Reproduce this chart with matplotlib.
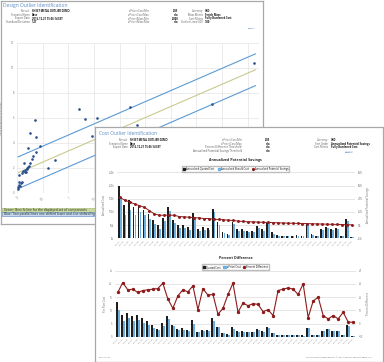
import numpy as np
import matplotlib
matplotlib.use('Agg')
import matplotlib.pyplot as plt
from matplotlib.patches import Rectangle, Patch
from matplotlib.lines import Line2D

plt.rcParams['font.family'] = ['Open Sans', 'DejaVu Sans']

W, H = 384, 362

# ---------------- design outlier (back report) ----------------
mass = [0.35, 0.25, 0.38, 1.20, 1.33, 1.57, 1.46, 2.21, 2.34, 4.63, 3.81, 0.22,
        0.44, 0.37, 0.31, 0.29, 0.14, 0.26, 0.24, 0.20, 0.18, 0.16, 0.12, 0.09,
        0.03, 0.61, 0.74, 0.04, 0.07, 0.10, 0.03, 0.01, 0.05, 0.02, 0.19, 0.22, 0.15]
fb_cost = [5.80, 4.76, 4.44, 6.74, 5.92, 6.02, 4.54, 6.86, 5.46, 10.38, 7.12, 3.62,
           3.78, 3.26, 2.96, 2.74, 2.38, 2.42, 2.16, 1.90, 1.70, 1.84, 1.78, 1.58,
           1.44, 1.98, 2.64, 0.86, 0.78, 0.90, 0.64, 0.46, 0.56, 0.32, 2.00, 2.06, 1.66]
fit_intercept = 1.576
fit_slope = 1.777
fit_sd = 1.27
fit_range = [0.025, 4.65]
mass_ticks = [0, 0.5, 1, 1.5, 2, 2.5, 3, 3.5, 4, 4.5]
mass_ticklabels = ['0', '0.5', '1', '1.5', '2', '2.5', '3', '3.5', '4', '4.5']
cost_ticks = [0, 2, 4, 6, 8, 10, 12]

back_left = [('Pursuit', 'SHEET METAL OUTLIER DEMO'), ('Scenario Name', 'Base'),
             ('Export Date', '2016-12-21 15:06:14 EST'), ('Standard Deviation', '1.27')]
back_mid = [('aPriori Cost Min', '0.05'), ('aPriori Cost Max', 'n/a'),
            ('aPriori Mass Min', '0.000'), ('aPriori Mass Max', 'n/a')]
back_right = [('Currency', 'USD'), ('Mass Metric', 'Finish Mass'),
              ('Cost Metric', 'Fully Burdened Cost'), ('Outlier Lines (SD)', '1.00')]

# ---------------- cost outlier (front report) ----------------
parts = [f'SM-{n:04d}' for n in range(1101, 1149)]
quoted_annual = [200, 127, 146, 120, 127, 108, 91, 70, 51, 78,
                 118, 70, 51, 51, 42, 95, 35, 42, 38, 110,
                 60, 25, 16, 60, 34, 34, 28, 28, 48, 35,
                 59, 22, 12, 10, 10, 10, 12, 9, 59, 15,
                 10, 34, 44, 34, 38, 10, 73, 5]
should_annual = [155, 88, 108, 88, 100, 88, 75, 55, 36, 64,
                 105, 57, 40, 40, 31, 80, 29, 33, 30, 100,
                 52, 19, 12, 54, 28, 28, 22, 22, 40, 29,
                 57, 16, 8, 8, 8, 8, 10, 7, 56, 11,
                 8, 30, 40, 30, 34, 8, 66, 4]
savings_pct = [42, 38, 35, 32, 29.5, 27, 22, 17, 15, 15,
               15, 15, 13, 12.5, 12, 11, 11, 10, 10, 9,
               8.5, 8, 7.5, 7, 6, 5.5, 5, 5, 4.5, 4.2,
               4, 3.8, 3.5, 3.2, 3, 2.8, 2.6, 2.4, 2.2, 2,
               1.8, 1.6, 1.4, 1.2, 1, 0.8, 0.6, 0.4]
quoted_cost = [13.1, 8.1, 9.1, 7.8, 8.4, 6.9, 5.9, 4.4, 3.1, 5.3,
               7.8, 4.4, 3.1, 3.4, 2.5, 6.3, 1.9, 2.5, 2.5, 7.1,
               3.8, 1.5, 0.9, 3.8, 2.1, 2.1, 1.9, 1.9, 2.9, 2.1,
               3.8, 1.5, 0.6, 0.6, 0.6, 0.6, 0.6, 0.6, 3.4, 0.6,
               0.6, 2.1, 2.9, 2.1, 2.3, 0.6, 4.4, 0.3]
apriori_cost = [10.2, 5.8, 6.9, 5.9, 6.5, 5.3, 4.5, 3.4, 2.4, 4.1,
                6.6, 3.9, 2.6, 2.7, 2.0, 4.9, 1.7, 2.0, 2.1, 5.8,
                3.5, 1.3, 0.7, 2.9, 1.9, 1.8, 1.7, 1.6, 2.5, 1.9,
                3.4, 1.4, 0.5, 0.5, 0.5, 0.5, 0.5, 0.45, 3.2, 0.5,
                0.5, 2.0, 2.8, 2.0, 2.2, 0.55, 4.1, 0.3]
pct_diff = [23.5, 31, 25.5, 26, 23.5, 25, 25.5, 26, 26.5, 30.5,
            18.5, 11.5, 21, 25.5, 24, 28.5, 10.5, 26.5, 21.5, 22,
            7, 11.5, 22, 30.5, 8.5, 15.5, 13.5, 15, 14.5, 9,
            10.5, 6, 25, 26, 27, 26, 22, 30, 4.5, 17,
            20, 6, 3.5, 6, 3.5, 8.5, 1, 1]

front_left = [('Pursuit', 'SHEET METAL OUTLIER DEMO'), ('Scenario Name', 'Base'),
              ('Export Date', '2016-12-21 15:06:14 EST')]
front_mid = [('aPriori Cost Min', '0.05'), ('aPriori Cost Max', 'n/a'),
             ('Percent Difference Threshold', 'n/a'),
             ('Annualized Potential Savings Threshold', 'n/a')]
front_right = [('Currency', 'USD'), ('Sort Order', 'Annualized Potential Savings'),
               ('Cost Metric', 'Fully Burdened Cost')]

TITLE = '#5b8cc4'
GRAY = '#6a6a6a'
BLACKBAR = '#1e1e1e'
BLUEBAR = '#6cb0e2'
RED = '#8e1b1b'


def frac(x0, y0, x1, y1):
    return [x0 / W, 1 - y1 / H, (x1 - x0) / W, (y1 - y0) / H]


def panel(x0, y0, x1, y1, z):
    ax = fig.add_axes(frac(x0, y0, x1, y1), zorder=z)
    ax.set_xlim(x0, x1)
    ax.set_ylim(y1, y0)
    ax.set_xticks([])
    ax.set_yticks([])
    for s in ax.spines.values():
        s.set_color('#a8a8a8')
        s.set_linewidth(0.9)
    return ax


def header(ax, rows, x_lab, x_val, y0, dy, val_ha='left'):
    for i, (lab, val) in enumerate(rows):
        y = y0 + i * dy
        ax.text(x_lab, y, lab, fontsize=1.9, color='#555555', ha='right', va='center')
        ax.text(x_val, y, val, fontsize=1.9, color='#111111', ha=val_ha, va='center',
                fontweight='bold')


fig = plt.figure(figsize=(W / 100, H / 100), dpi=100)

# ---------- back panel ----------
bp = panel(0.5, 0.5, 263, 224, 1)
bp.text(3, 5, 'Design Outlier Identification', fontsize=3.6, color=TITLE, va='center')
header(bp, back_left, 30, 32, 11.3, 3.6)
header(bp, back_mid, 149, 178.5, 11.3, 3.6, val_ha='right')
header(bp, back_right, 203, 205, 11.3, 3.6)
bp.text(252, 28.5, 'details', fontsize=1.7, color='#3a6fb0', ha='center', va='center')
bp.add_patch(Rectangle((2, 207.5), 258, 4, facecolor='#c9d99b', edgecolor='#9bb25a', lw=0.4))
bp.add_patch(Rectangle((2, 212), 258, 4, facecolor='#c6daf2', edgecolor='#4f81bd', lw=0.4))
bp.text(4, 209.6, 'Green: Best fit line for the displayed set of components', fontsize=2.3,
        color='#222222', va='center')
bp.text(4, 214.1, 'Blue: Two parallel lines one shifted lower and one shifted higher',
        fontsize=2.3, color='#222222', va='center')

sax = fig.add_axes(frac(17, 42.7, 259, 193), zorder=2)
sax.patch.set_alpha(0)
fx = np.array(fit_range)
fy = fit_intercept + fit_slope * fx
sax.plot(fx, fy, color='#c9c98f', lw=0.8)
sax.plot(fx, fy + fit_sd, color='#5b9bd5', lw=0.8)
sax.plot(fx, fy - fit_sd, color='#5b9bd5', lw=0.8)
sax.scatter(mass, fb_cost, s=3.5, color='#264d8a', linewidths=0, zorder=3)
sax.set_xlim(0, 4.72)
sax.set_ylim(0, 12)
sax.set_xticks(mass_ticks)
sax.set_xticklabels(mass_ticklabels, rotation=45, ha='right', rotation_mode='anchor')
sax.set_yticks(cost_ticks)
sax.grid(True, color='#e4e4e4', lw=0.5)
sax.set_axisbelow(True)
for s in sax.spines.values():
    s.set_visible(False)
sax.tick_params(length=0, labelsize=1.9, colors=GRAY, pad=2)
sax.set_ylabel('Fully Burdened Cost (USD)', fontsize=2.0, color=GRAY)
sax.yaxis.set_label_coords(-0.058, 0.5)

# ---------- front panel ----------
fp = panel(95, 127, 383, 361.5, 3)
fp.text(99, 133, 'Cost Outlier Identification', fontsize=3.5, color=TITLE, va='center')
header(fp, front_left, 127.7, 129.5, 140, 3.7)
header(fp, front_mid, 241.7, 270, 140, 3.7, val_ha='right')
header(fp, front_right, 328, 330.7, 140, 3.7)
fp.text(349, 152, 'details', fontsize=1.7, color='#3a6fb0', ha='center', va='center',
        bbox=dict(boxstyle='square,pad=0.15', facecolor='#dde9f6', edgecolor='none'))
fp.text(99, 358, '2017-01-21', fontsize=1.7, color=GRAY, va='center')
fp.text(372, 358, 'aPriori Cost Insight Report \u00a9 2017 aPriori Technologies, Inc.',
        fontsize=1.7, color=GRAY, va='center', ha='right')

x = np.arange(len(parts))


def style_chart(ax, tw, title, leg_handles, leg_labels, leg_y, title_y):
    ax.set_xlim(-0.55, len(parts) - 0.45)
    ax.set_xticks(x)
    ax.set_xticklabels(parts, rotation=45, ha='right', rotation_mode='anchor')
    ax.grid(True, axis='y', color='#dcdcdc', lw=0.5)
    ax.set_axisbelow(True)
    for a in (ax, tw):
        for s in a.spines.values():
            s.set_visible(False)
        a.tick_params(length=0, labelsize=1.8, colors=GRAY, pad=2)
    ax.tick_params(axis='x', labelsize=1.3, pad=1)
    ax.text(0.5, title_y, title, transform=ax.transAxes, ha='center', va='center',
            fontsize=2.6, fontweight='bold', color='#222222')
    ax.legend(leg_handles, leg_labels, loc='center', bbox_to_anchor=(0.5, leg_y), ncol=3,
              fontsize=1.8, frameon=True, fancybox=False, edgecolor='#bdbdbd',
              handlelength=0.9, handleheight=0.9, handletextpad=0.4, columnspacing=1.2,
              borderpad=0.35, framealpha=1)


# chart 1: annualized potential savings
c1 = fig.add_axes(frac(117, 172.3, 354.6, 238.3), zorder=4)
c1.patch.set_alpha(0)
c1.bar(x - 0.19, quoted_annual, width=0.36, color=BLACKBAR)
c1.bar(x + 0.19, should_annual, width=0.36, color=BLUEBAR)
c1.set_ylim(0, 250)
c1.set_yticks([0, 50, 100, 150, 200, 250])
c1.set_yticklabels(['0k', '50k', '100k', '150k', '200k', '250k'])
t1 = c1.twinx()
t1.set_zorder(5)
t1.patch.set_visible(False)
t1.plot(x, savings_pct, color=RED, lw=0.7, marker='o', ms=1.1, mec=RED)
t1.set_ylim(-20, 80)
t1.set_yticks([-20, 0, 20, 40, 60, 80])
t1.set_yticklabels(['-20%', '0%', '20%', '40%', '60%', '80%'])
c1.set_ylabel('Annualized Cost', fontsize=1.9, color=GRAY, labelpad=2)
t1.set_ylabel('Annualized Potential Savings', fontsize=1.9, color=GRAY, labelpad=2,
              rotation=90)
style_chart(c1, t1, 'Annualized Potential Savings',
            [Patch(color=BLACKBAR), Patch(color=BLUEBAR),
             Line2D([], [], color=RED, lw=0.7, marker='o', ms=1.3)],
            ['Annualized Quoted Cost', 'Annualized Should Cost', 'Annualized Potential Savings'],
            1.055, 1.185)

# chart 2: percent difference
c2 = fig.add_axes(frac(115, 270.7, 356, 336.7), zorder=4)
c2.patch.set_alpha(0)
c2.bar(x - 0.19, quoted_cost, width=0.36, color=BLACKBAR)
c2.bar(x + 0.19, apriori_cost, width=0.36, color=BLUEBAR)
c2.set_ylim(0, 25)
c2.set_yticks([0, 5, 10, 15, 20, 25])
t2 = c2.twinx()
t2.set_zorder(5)
t2.patch.set_visible(False)
t2.plot(x, pct_diff, color=RED, lw=0.8, marker='o', ms=1.4, mec=RED)
t2.set_ylim(-10, 40)
t2.set_yticks([-10, 0, 10, 20, 30, 40])
c2.set_ylabel('Per Part Cost', fontsize=1.9, color=GRAY, labelpad=2)
t2.set_ylabel('Percent Difference', fontsize=1.9, color=GRAY, labelpad=2)
style_chart(c2, t2, 'Percent Difference',
            [Patch(color=BLACKBAR), Patch(color=BLUEBAR),
             Line2D([], [], color=RED, lw=0.8, marker='o', ms=1.4)],
            ['Quoted Cost', 'aPriori Cost', 'Percent Difference'],
            1.055, 1.185)

fig.savefig('out.png', dpi=100)
